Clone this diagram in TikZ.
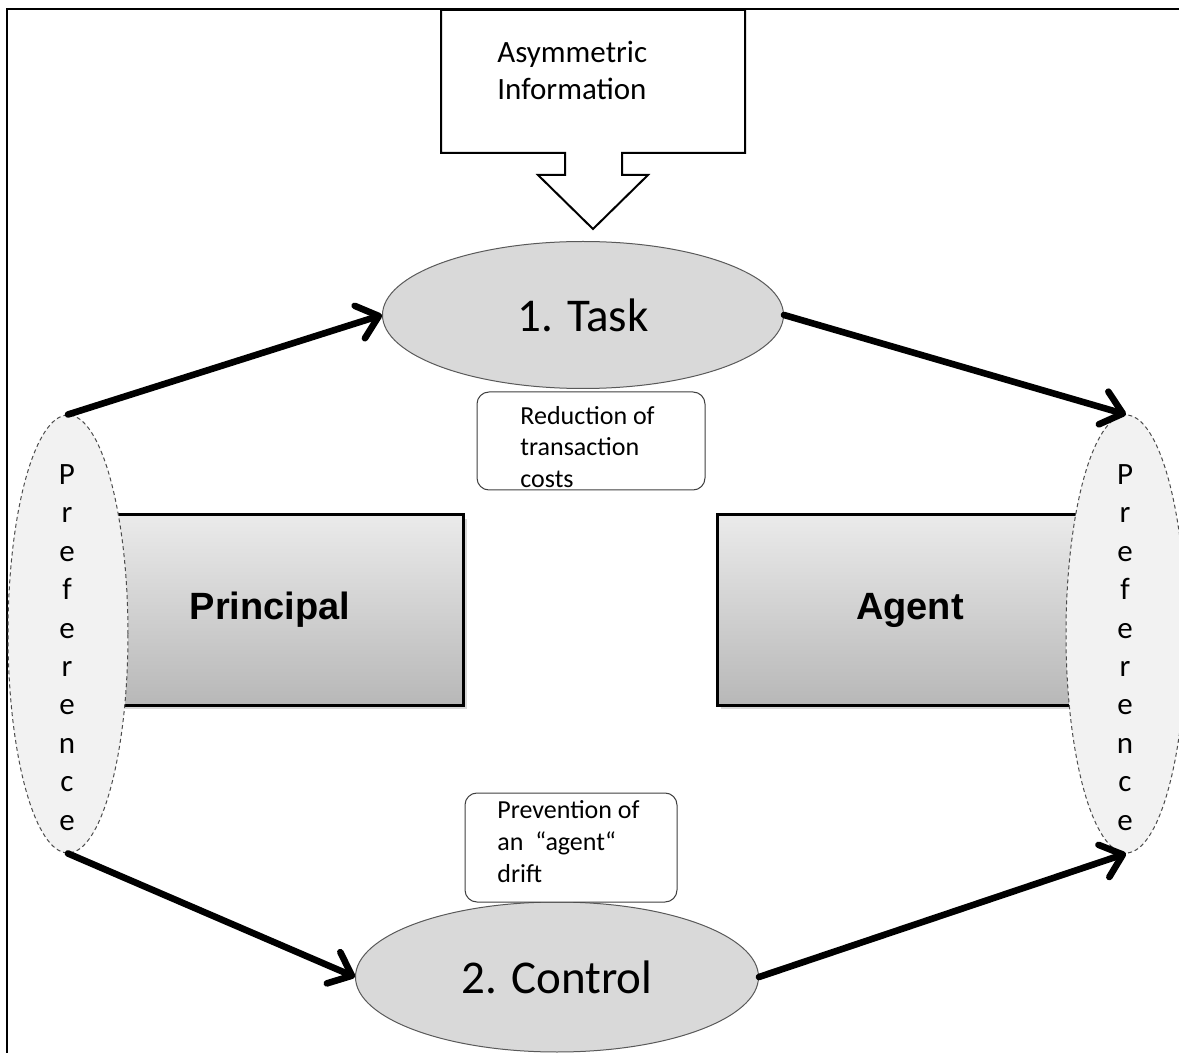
\documentclass[tikz,border=0pt]{standalone}
\usepackage{fontspec}
\setmainfont{Carlito}
\newfontfamily\headfont{Liberation Sans}
\usetikzlibrary{shapes.geometric,arrows.meta,shadows}

\begin{document}
\begin{tikzpicture}[x=0.5pt,y=-0.5pt,
  frameline/.style={line width=1.3pt},
  callout/.style={draw=black, line width=1pt, fill=white, line join=miter},
  stage/.style={ellipse, draw=black!65, line width=0.5pt, fill=black!15,
    inner sep=0pt, font=\fontsize{23.5}{28}\selectfont},
  pref/.style={ellipse, draw=black!70, dash pattern=on 2pt off 1.5pt,
    line width=0.5pt, fill=black!5, inner sep=0pt,
    minimum width=60pt, minimum height=219pt},
  party/.style={rectangle, draw=black, line width=1.5pt,
    top color=black!8, bottom color=black!28,
    minimum width=193pt, minimum height=95pt, inner sep=0pt,
    drop shadow={shadow xshift=2pt, shadow yshift=-2pt, opacity=0.3},
    font=\headfont\bfseries\fontsize{19}{23}\selectfont},
  notebox/.style={rectangle, rounded corners=6pt, draw=black!75,
    line width=0.5pt, fill=white, inner sep=0pt},
  % multi-line text: the base anchor sits on the last line's baseline
  notetext/.style={anchor=base west, align=left, inner sep=0pt,
    font=\fontsize{13}{16}\selectfont},
  preftext/.style={anchor=base, align=center, inner sep=0pt,
    font=\fontsize{15.5}{19.2}\selectfont},
  flow/.style={line width=3.3pt, line cap=round,
    -{Straight Barb[length=10pt,width=17pt,line cap=round,line join=round]}}
]
\useasboundingbox (0,0) rectangle (1179,1053);

% outer frame (top and left edges)
\draw[frameline] (7,1053) -- (7,9) -- (1179,9);

% callout with downward block arrow
\draw[callout] (441,10) -- (745,10) -- (745,153) -- (622,153) -- (622,175)
  -- (648,175) -- (593,229) -- (538,175) -- (565,175) -- (565,153)
  -- (441,153) -- cycle;
\node[anchor=base west, align=left, inner sep=0pt,
  font=\fontsize{15.5}{18.5}\selectfont] (asym) at (497,100)
  {Asymmetric\\Information};

% the two parties
\node[party] (principal) at (270,610) {Principal};
\node[party] (agent) at (910,610) {Agent};

% preference ellipses
\node[pref] (prefL) at (68,634) {};
\node[pref] (prefR) at (1126,634) {};
\node[preftext] (prefLtext) at (67,830) {P\\r\\e\\f\\e\\r\\e\\n\\c\\e};
\node[preftext] (prefRtext) at (1125,830) {P\\r\\e\\f\\e\\r\\e\\n\\c\\e};

% stages
\node[stage, minimum width=200.5pt, minimum height=73.5pt] (task) at (583,315) {1. Task};
\node[stage, minimum width=201.5pt, minimum height=75pt] (control) at (557,977) {2. Control};

% notes
\node[notebox, minimum width=114pt, minimum height=49pt] (redbox) at (591,441) {};
\node[notetext] (redtext) at (520,488) {Reduction of\\transaction\\costs};
\node[notebox, minimum width=106pt, minimum height=54.5pt] (prevbox) at (571,847.5) {};
\node[notetext] (prevtext) at (497,882) {Prevention of\\an~~“agent“\\drift};

% flows
\draw[flow] (prefL.north) -- (task.west);
\draw[flow] (task.east) -- (prefR.north);
\draw[flow] (prefL.south) -- (control.west);
\draw[flow] (control.east) -- (prefR.south);
\end{tikzpicture}
\end{document}
